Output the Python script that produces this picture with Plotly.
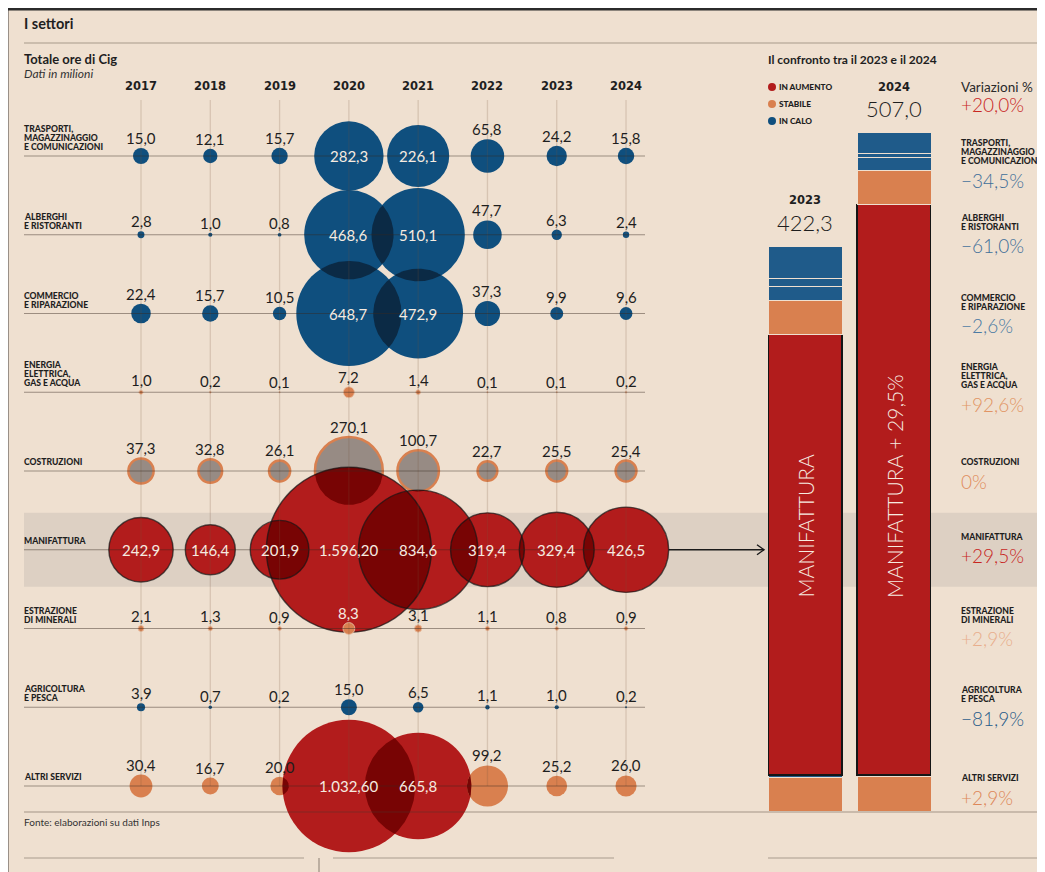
import numpy as np
import plotly.graph_objects as go

# ---------------- DATA ----------------
years = [2017, 2018, 2019, 2020, 2021, 2022, 2023, 2024]
sector_names = [
    "TRASPORTI,\nMAGAZZINAGGIO\nE COMUNICAZIONI",
    "ALBERGHI\nE RISTORANTI",
    "COMMERCIO\nE RIPARAZIONE",
    "ENERGIA\nELETTRICA,\nGAS E ACQUA",
    "COSTRUZIONI",
    "MANIFATTURA",
    "ESTRAZIONE\nDI MINERALI",
    "AGRICOLTURA\nE PESCA",
    "ALTRI SERVIZI",
]
trasporti = [15.0, 12.1, 15.7, 282.3, 226.1, 65.8, 24.2, 15.8]
alberghi = [2.8, 1.0, 0.8, 468.6, 510.1, 47.7, 6.3, 2.4]
commercio = [22.4, 15.7, 10.5, 648.7, 472.9, 37.3, 9.9, 9.6]
energia = [1.0, 0.2, 0.1, 7.2, 1.4, 0.1, 0.1, 0.2]
costruzioni = [37.3, 32.8, 26.1, 270.1, 100.7, 22.7, 25.5, 25.4]
manifattura = [242.9, 146.4, 201.9, 1596.2, 834.6, 319.4, 329.4, 426.5]
estrazione = [2.1, 1.3, 0.9, 8.3, 3.1, 1.1, 0.8, 0.9]
agricoltura = [3.9, 0.7, 0.2, 15.0, 6.5, 1.1, 1.0, 0.2]
altri_servizi = [30.4, 16.7, 20.0, 1032.6, 665.8, 99.2, 25.2, 26.0]
values = [trasporti, alberghi, commercio, energia, costruzioni,
          manifattura, estrazione, agricoltura, altri_servizi]

trend = ["calo", "calo", "calo", "stabile", "stabile", "aumento", "stabile", "calo", "stabile"]
variazioni = [-34.5, -61.0, -2.6, 92.6, 0.0, 29.5, 2.9, -81.9, 2.9]
variazione_totale = 20.0
altri_in_aumento_years = [2020, 2021]
bar_years = [2023, 2024]
bar_totals = [422.3, 507.0]
legend_labels = ["IN AUMENTO", "STABILE", "IN CALO"]

# ---------------- STYLE ----------------
OX, OY = 8, 8              # page offset of the figure (body margin)
W, H = 1037, 864           # figure size
BG = "#efe0d0"
BAND = "#ddd0c3"
BLUE = "#0f4f7e"
BAR_BLUE = "#1f5b8a"
NAVY = "#0b2a45"
RED = "#b21c1c"
DARKRED = "#780404"
ORANGE = "#d9804f"
GREY = "#978b84"
INK = "#1e1e1e"
LIGHT = "#f6ebe0"
NUM_FONT = "Lato"
CAPS_FONT = "Lato"
CAPS_W = 900
CAPS_SIZE = 8.6
VAR_COLORS = ["#3f6f99", "#3f6f99", "#4a7aa3", "#e19463", "#df8c5c",
              "#c8261e", "#e8ae8c", "#1f5a88", "#dd8758"]

X0, DX = 141.0, 69.29     # page pixel of first year, pixels per year
Y0, DY = 156.0, 78.75     # page pixel of first row, pixels per row
K = 2.065                 # bubble radius factor (px per sqrt(unit))
BAR_SCALE = 1.3376        # px per unit in stacked bars
BAR_BOTTOM = 811


def xd(px):
    return years[0] + (px - X0) / DX


def yd(py):
    return (py - Y0) / DY


def xpx(year):
    return X0 + (year - years[0]) * DX


def ypx(row):
    return Y0 + row * DY


def radius(v):
    return K * np.sqrt(v)


def fmt(v):
    if v >= 1000:
        s = f"{v:,.2f}"
        return s.replace(",", "X").replace(".", ",").replace("X", ".")
    return f"{v:.1f}".replace(".", ",")


def fmt_var(v):
    if v == 0:
        return "0%"
    s = f"{abs(v):.1f}".replace(".", ",") + "%"
    return ("+" if v > 0 else "\u2212") + s


def pxp(x):
    return (x - OX) / W


def pyp(y):
    return 1 - (y - OY) / H


def bubble_color(i, j):
    if trend[i] == "aumento" or (i == 8 and years[j] in altri_in_aumento_years):
        return RED
    if trend[i] == "calo":
        return BLUE
    return ORANGE


fig = go.Figure()

# ---------------- bubbles ----------------
records = []
fill_order = [0, 1, 2, 7, 4, 8, 5]
top_order = [3, 6]
for i in fill_order + top_order:
    cols, sizes = [], []
    for j, v in enumerate(values[i]):
        c = bubble_color(i, j)
        fillc = GREY if i == 4 else c
        cols.append(fillc)
        sizes.append(2 * radius(v))
        records.append(dict(i=i, j=j, cx=xpx(years[j]), cy=ypx(i), r=radius(v),
                            c=fillc, top=(i in top_order)))
    line = dict(width=0)
    if i == 4:
        line = dict(width=2.5, color=ORANGE)
    elif i in top_order:
        line = dict(width=0.8, color="#e9c3a8")
    fig.add_trace(go.Scatter(x=years, y=[i] * len(years), mode="markers",
                             marker=dict(size=sizes, color=cols, line=line, opacity=1),
                             hoverinfo="skip", showlegend=False, cliponaxis=False))
    if i == 5:
        # overlap lenses (darker where bubbles overlap)
        fills = [r for r in records if not r["top"]]
        t = np.linspace(0, 2 * np.pi, 360, endpoint=False)
        for a in range(len(fills)):
            for b in range(a + 1, len(fills)):
                A_, B_ = fills[a], fills[b]
                d = np.hypot(A_["cx"] - B_["cx"], A_["cy"] - B_["cy"])
                if d >= A_["r"] + B_["r"] or d <= abs(A_["r"] - B_["r"]):
                    continue
                if RED in (A_["c"], B_["c"]):
                    lc = DARKRED
                elif A_["c"] == BLUE and B_["c"] == BLUE:
                    lc = NAVY
                else:
                    continue
                p1 = np.c_[A_["cx"] + A_["r"] * np.cos(t), A_["cy"] + A_["r"] * np.sin(t)]
                p1 = p1[np.hypot(p1[:, 0] - B_["cx"], p1[:, 1] - B_["cy"]) <= B_["r"]]
                p2 = np.c_[B_["cx"] + B_["r"] * np.cos(t), B_["cy"] + B_["r"] * np.sin(t)]
                p2 = p2[np.hypot(p2[:, 0] - A_["cx"], p2[:, 1] - A_["cy"]) <= A_["r"]]
                pts = np.vstack([p1, p2])
                if len(pts) < 3:
                    continue
                cen = pts.mean(axis=0)
                pts = pts[np.argsort(np.arctan2(pts[:, 1] - cen[1], pts[:, 0] - cen[0]))]
                pts = np.vstack([pts, pts[:1]])
                fig.add_trace(go.Scatter(x=xd(pts[:, 0]), y=yd(pts[:, 1]), mode="lines",
                                         fill="toself", fillcolor=lc, line=dict(width=0),
                                         hoverinfo="skip", showlegend=False))
        # outlines of manifattura
        fig.add_trace(go.Scatter(x=years, y=[5] * len(years), mode="markers",
                                 marker=dict(size=[2 * radius(v) for v in manifattura],
                                             color="rgba(0,0,0,0)",
                                             line=dict(width=1.4, color="#151515")),
                                 hoverinfo="skip", showlegend=False, cliponaxis=False))

# ---------------- stacked bars ----------------
bar_color = {"calo": BAR_BLUE, "stabile": ORANGE, "aumento": RED}
for i in reversed(range(len(values))):
    yv = [values[i][years.index(y)] for y in bar_years]
    line = dict(width=1.5, color="#151515") if i == 5 else dict(width=1.0, color=BG)
    fig.add_trace(go.Bar(x=[0, 1], y=yv, xaxis="x2", yaxis="y2", width=74 / 89,
                         marker=dict(color=bar_color[trend[i]], line=line),
                         hoverinfo="skip", showlegend=False))

# ---------------- shapes ----------------
shapes = []
shapes.append(dict(type="line", xref="paper", yref="paper", x0=pxp(8.5), x1=pxp(8.5), y0=0, y1=1,
                   line=dict(color="#9a9088", width=1), layer="below"))
shapes.append(dict(type="line", xref="paper", yref="paper", x0=0, x1=1, y0=pyp(9.2), y1=pyp(9.2),
                   line=dict(color="#2b2b2b", width=2.5), layer="below"))
shapes.append(dict(type="line", xref="paper", yref="paper", x0=pxp(24), x1=1, y0=pyp(43), y1=pyp(43),
                   line=dict(color="#a8998a", width=1.2), layer="below"))
# manifattura band
shapes.append(dict(type="rect", xref="paper", yref="y", x0=pxp(24), x1=1,
                   y0=5 + yd(Y0 - 37), y1=5 + yd(Y0 + 37),
                   fillcolor=BAND, line=dict(width=0), layer="below"))
# vertical gridlines (years)
for yr in years:
    shapes.append(dict(type="line", xref="x", yref="y", x0=yr, x1=yr, y0=yd(100), y1=len(values) - 1,
                       line=dict(color="rgba(120,85,60,0.2)", width=1.3), layer="above"))
# row lines
for i in range(len(values)):
    shapes.append(dict(type="line", xref="x", yref="y", x0=xd(24), x1=xd(645), y0=i, y1=i,
                       line=dict(color="rgba(55,40,30,0.45)", width=1.2), layer="above"))
# arrow from manifattura to bars
shapes.append(dict(type="line", xref="x", yref="y", x0=xd(xpx(years[-1]) + radius(manifattura[-1])),
                   x1=xd(764), y0=5, y1=5, line=dict(color="#1a1a1a", width=1.4), layer="above"))
shapes.append(dict(type="path", xref="paper", yref="paper",
                   path=f"M {pxp(757)},{pyp(ypx(5) - 5)} L {pxp(764)},{pyp(ypx(5))} L {pxp(757)},{pyp(ypx(5) + 5)}",
                   line=dict(color="#1a1a1a", width=1.4), layer="above"))
# bottom lines
shapes.append(dict(type="line", xref="paper", yref="paper", x0=pxp(24), x1=1, y0=pyp(812), y1=pyp(812),
                   line=dict(color="rgba(70,55,45,0.45)", width=1.2), layer="above"))
for a, b in [(24, 304), (333, 614), (768, 1045)]:
    shapes.append(dict(type="line", xref="paper", yref="paper", x0=pxp(a), x1=pxp(b),
                       y0=pyp(858), y1=pyp(858), line=dict(color="#aa9c8e", width=1.2), layer="below"))
shapes.append(dict(type="line", xref="paper", yref="paper", x0=pxp(319), x1=pxp(319),
                   y0=pyp(858), y1=0, line=dict(color="#9a8e82", width=1.2), layer="below"))
# legend dots
leg_cols = [RED, ORANGE, BLUE]
for k, c in enumerate(leg_cols):
    cy = 87 + 17 * k
    shapes.append(dict(type="circle", xref="paper", yref="paper",
                       x0=pxp(768), x1=pxp(776), y0=pyp(cy - 4), y1=pyp(cy + 4),
                       fillcolor=c, line=dict(width=0), layer="above"))

# ---------------- annotations ----------------
ann = []


def A(text, x, y, size, color=INK, family=NUM_FONT, weight=400, xanchor="left", yanchor="middle",
      xref="paper", yref="paper", yshift=0, style="normal", **kw):
    xs = -2 if xanchor == "left" else 0
    ann.append(dict(text=text, x=x, y=y, xref=xref, yref=yref, showarrow=False,
                    xanchor=xanchor, yanchor=yanchor, yshift=yshift, xshift=xs,
                    font=dict(family=family, size=size, color=color, weight=weight, style=style), **kw))


A("I settori", pxp(24), pyp(24), 14.5, weight=700)
A("Totale ore di Cig", pxp(24), pyp(59), 13, weight=700)
A("Dati in milioni", pxp(24), pyp(73.5), 12, style="italic", color="#333")
A("Il confronto tra il 2023 e il 2024", pxp(768), pyp(59), 12, weight=700)
A("Fonte: elaborazioni su dati Inps", pxp(24), pyp(822), 10, color="#333")

for yr in years:
    A(str(yr), yr, pyp(86), 11.5, family="DejaVu Sans", weight=700, xanchor="center", xref="x")

# left sector names (tight line spacing)
for i, name in enumerate(sector_names):
    lines = name.split("\n")
    n = len(lines)
    for k, ln in enumerate(lines):
        A(ln, pxp(24), i, CAPS_SIZE, family=CAPS_FONT, weight=CAPS_W, yref="y", yshift=9 + (n - 1 - k) * 9)

# bubble value labels
for r in records:
    i, j = r["i"], r["j"]
    v = values[i][j]
    inside = r["c"] in (RED, BLUE) and v >= 100
    if inside:
        A(fmt(v), years[j], i, 15, color=LIGHT, xanchor="center", xref="x", yref="y")
    else:
        ly = r["cy"] - r["r"] - 10
        covered = any(o["c"] in (RED, BLUE) and not o["top"] and
                      np.hypot(o["cx"] - r["cx"], o["cy"] - ly) < o["r"] - 2 for o in records if o is not r)
        A(fmt(v), years[j], i, 15, color=(LIGHT if covered else INK), xanchor="center",
          xref="x", yref="y", yshift=r["r"] + 10)

# legend texts
for k, t in enumerate(legend_labels):
    A(t, pxp(779), pyp(87 + 17 * k), 8.3, family=CAPS_FONT, weight=CAPS_W)

# right column
A("Variazioni %", pxp(961), pyp(87), 13.5, color="#2a2a2a")
A(fmt_var(variazione_totale), pxp(961), pyp(105), 19, color="#c8261e", weight=300)
right_shift = [13, 0, 1, 1, -1, -5, -1, 0, 0]
for i, name in enumerate(sector_names):
    lines = name.split("\n")
    n = len(lines)
    for k, ln in enumerate(lines):
        A(ln, pxp(961), i, CAPS_SIZE, family=CAPS_FONT, weight=CAPS_W, yref="y",
          yshift=8 - right_shift[i] + (n - 1 - k) * 9)
    A(fmt_var(variazioni[i]), pxp(961), i, 19, color=VAR_COLORS[i], weight=300, yref="y",
      yshift=-11 - right_shift[i])

# bar headers
for b, y in enumerate(bar_years):
    A(str(y), b, bar_totals[b], 11.5, family="DejaVu Sans", weight=700, xanchor="center",
      xref="x2", yref="y2", yshift=46)
    A(fmt(bar_totals[b]), b, bar_totals[b], 22, weight=300, xanchor="center", xref="x2", yref="y2",
      yshift=24)

# labels inside the manifattura bars
manif_label_y = (BAR_BOTTOM - 600) / BAR_SCALE
A("MANIFATTURA", 0, manif_label_y, 21, color=LIGHT, weight=300, xanchor="center",
  yanchor="bottom", xref="x2", yref="y2", textangle=-90)
A("MANIFATTURA + " + fmt_var(variazioni[5]).lstrip("+"), 1, manif_label_y, 21, color=LIGHT,
  weight=300, xanchor="center", yanchor="bottom", xref="x2", yref="y2", textangle=-90)

fig.update_layout(
    width=W, height=H, autosize=False,
    margin=dict(l=0, r=0, t=0, b=0),
    paper_bgcolor=BG, plot_bgcolor="rgba(0,0,0,0)",
    showlegend=False, barmode="stack",
    xaxis=dict(domain=[0, 1], range=[xd(OX), xd(OX + W)], visible=False, fixedrange=True),
    yaxis=dict(domain=[0, 1], range=[yd(OY + H), yd(OY)], visible=False, fixedrange=True),
    xaxis2=dict(domain=[pxp(768), pxp(931)], range=[-37 / 89, 1 + 37 / 89], anchor="y2",
                visible=False, fixedrange=True),
    yaxis2=dict(domain=[pyp(BAR_BOTTOM), pyp(120)],
                range=[0, (BAR_BOTTOM - 120) / BAR_SCALE], anchor="x2", visible=False, fixedrange=True),
    shapes=shapes, annotations=ann,
)

fig.write_html("out.html")
